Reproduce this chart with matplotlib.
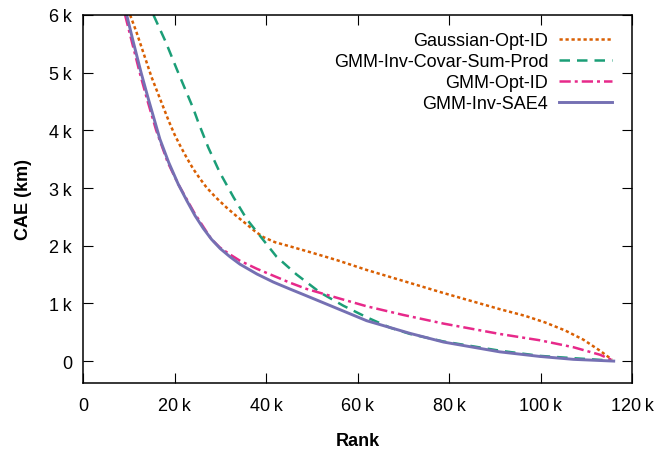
import matplotlib
matplotlib.use('Agg')
import matplotlib.pyplot as plt
from matplotlib.ticker import FuncFormatter, MultipleLocator

plt.rcParams['font.family'] = ['Liberation Sans', 'DejaVu Sans']

# data (rank, CAE in km)
gauss_rank = [10300, 11700, 15000, 18700, 20000, 21200, 22700, 24100, 25500, 27000, 29000,
              31400, 33600, 35800, 37600, 39400, 42000, 45200, 50000, 55500, 62000,
              78800, 91100, 96600, 101000, 105400, 109400, 113000, 115200, 115600]
gauss_cae = [6000, 5700, 4920, 4170, 3930, 3740, 3520, 3330, 3170, 3010, 2840,
             2660, 2510, 2370, 2250, 2150, 2060, 1990, 1880, 1750, 1580,
             1180, 900, 785, 670, 530, 370, 180, 50, 20]

covar_rank = [15400, 18100, 20500, 24100, 25200, 27400, 29900, 32900, 35800, 38700, 42300,
              46700, 51800, 56900, 62000, 67100, 71500, 78800, 91100, 99900, 107200, 115300]
covar_cae = [6000, 5530, 5060, 4380, 4140, 3700, 3270, 2840, 2460, 2170, 1810,
             1500, 1190, 960, 760, 580, 470, 340, 180, 90, 50, 10]

gmm_rank = [9200, 10700, 12400, 14000, 16000, 18500, 20800, 24400, 28000, 29900, 32100,
            34300, 38000, 41600, 45200, 48900, 55400, 62000, 70000, 78800, 91100,
            99900, 107200, 113000, 115600]
gmm_cae = [6000, 5530, 5000, 4540, 4000, 3450, 3070, 2560, 2120, 1970, 1850,
           1740, 1600, 1480, 1360, 1250, 1100, 950, 800, 650, 470,
           360, 240, 110, 20]

sae_rank = [9550, 11000, 12700, 14300, 16800, 18700, 20800, 22700, 24500, 26300, 28100,
            30000, 32100, 34300, 38000, 41600, 45200, 48900, 54700, 62000, 71500,
            78800, 91100, 99900, 107200, 116000]
sae_cae = [6000, 5530, 5000, 4540, 3850, 3450, 3070, 2780, 2520, 2300, 2110,
           1950, 1810, 1680, 1510, 1370, 1250, 1130, 940, 700, 480,
           330, 160, 80, 30, 0]

labels = ['Gaussian-Opt-ID', 'GMM-Inv-Covar-Sum-Prod', 'GMM-Opt-ID', 'GMM-Inv-SAE4']
colors = ['#D95F02', '#1B9E77', '#E7298A', '#7570B3']

fig = plt.figure(figsize=(6.7, 4.52), dpi=100)
ax = fig.add_axes([83/670, 1-384/452, 549/670, 368/452])

ax.plot(gauss_rank, gauss_cae, color=colors[0], lw=1.8, linestyle=(0, (1.3, 1.1)),
        dash_capstyle='butt', label=labels[0])
ax.plot(covar_rank, covar_cae, color=colors[1], lw=1.8, linestyle=(0, (4.2, 2.8)),
        dash_capstyle='butt', label=labels[1])
ax.plot(gmm_rank, gmm_cae, color=colors[2], lw=1.8, linestyle=(0, (4.5, 1.6, 1.2, 1.6)),
        dash_capstyle='butt', label=labels[2])
ax.plot(sae_rank, sae_cae, color=colors[3], lw=2.1, label=labels[3])

ax.set_xlim(0, 120000)
ax.set_ylim(-380, 6000)
ax.xaxis.set_major_locator(MultipleLocator(20000))
ax.yaxis.set_major_locator(MultipleLocator(1000))

def kfmt(v, pos):
    if v == 0:
        return '0'
    return '%d\u2009k' % round(v / 1000)

ax.xaxis.set_major_formatter(FuncFormatter(kfmt))
ax.yaxis.set_major_formatter(FuncFormatter(kfmt))

ax.tick_params(direction='in', length=7, width=0.8, top=True, right=True, labelsize=13)
ax.tick_params(axis='x', pad=10)
ax.tick_params(axis='y', pad=8)
for s in ax.spines.values():
    s.set_linewidth(1.1)

ax.set_xlabel('Rank', fontsize=13, fontweight='bold')
ax.set_ylabel('CAE (km)', fontsize=13, fontweight='bold')
ax.xaxis.set_label_coords(0.5, -0.133)
ax.yaxis.set_label_coords(-0.093, 0.5)

ax.legend(loc='upper right', markerfirst=False, frameon=False, fontsize=13,
          bbox_to_anchor=(1 - 20/549, 1 - 17/368), borderpad=0, borderaxespad=0,
          handlelength=2.93, handletextpad=0.6, labelspacing=0.23)

fig.savefig('out.png', dpi=100)
